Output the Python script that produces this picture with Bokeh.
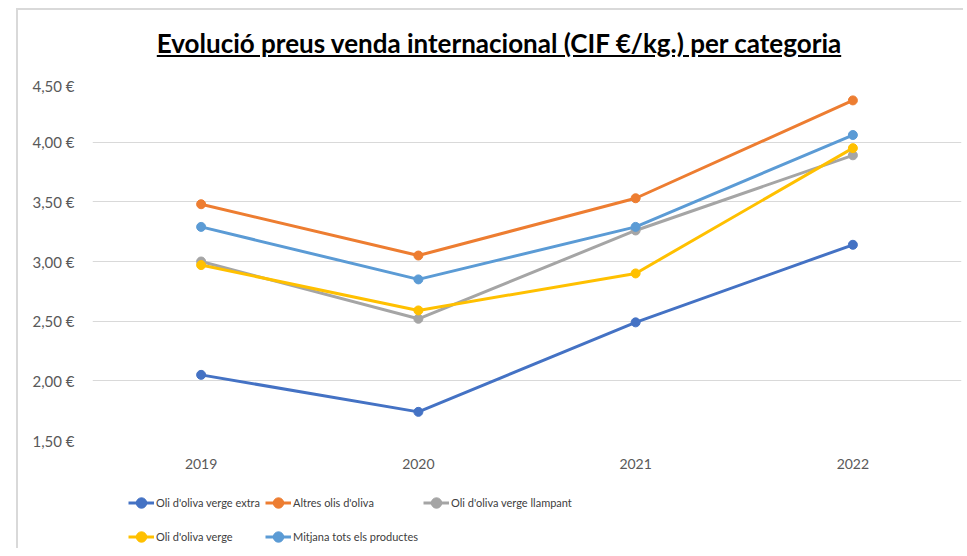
from bokeh.plotting import figure
from bokeh.models import (FactorRange, Legend, LegendItem, CustomJSTickFormatter,
                          FixedTicker, Div, ColumnDataSource, Range1d)
from bokeh.layouts import column
from bokeh.embed import file_html
from bokeh.resources import INLINE

years = ["2019", "2020", "2021", "2022"]
oli_extra = [2.05, 1.74, 2.49, 3.14]
altres = [3.48, 3.05, 3.53, 4.35]
llampant = [3.00, 2.52, 3.26, 3.89]
verge = [2.97, 2.59, 2.90, 3.95]
mitjana = [3.29, 2.85, 3.29, 4.06]

series_names = ["Oli d'oliva verge extra", "Altres olis d'oliva", "Oli d'oliva verge llampant",
                "Oli d'oliva verge", "Mitjana tots els productes"]
series_values = [oli_extra, altres, llampant, verge, mitjana]
colors = ["#4472C4", "#ED7D31", "#A5A5A5", "#FFC000", "#5B9BD5"]
y_ticks = [1.5, 2.0, 2.5, 3.0, 3.5, 4.0, 4.5]

FONT = "Lato"
W = 945

title = Div(
    text="<u>Evolució preus venda internacional (CIF €/kg.) per categoria</u>",
    width=W, height=66, margin=0,
    styles={"text-align": "center", "font-family": FONT, "font-weight": "bold",
            "font-size": "26px", "line-height": "66px", "color": "#000000",
            "text-indent": "17px"},
)

p = figure(x_range=FactorRange(*years, range_padding=0), y_range=(1.5, 4.5),
           width=W, height=399, output_backend="svg", toolbar_location=None,
           min_border_left=74, min_border_right=2, min_border_top=6, min_border_bottom=35)
p.outline_line_color = None
p.background_fill_color = "white"
p.border_fill_color = "white"

p.xgrid.grid_line_color = None
p.ygrid.grid_line_color = "#D9D9D9"
p.ygrid.grid_line_width = 1

p.yaxis.ticker = FixedTicker(ticks=y_ticks)
p.yaxis.formatter = CustomJSTickFormatter(
    code="return tick.toFixed(2).replace('.', ',') + ' €';")
for ax in (p.xaxis[0], p.yaxis[0]):
    ax.axis_line_color = None
    ax.major_tick_line_color = None
    ax.minor_tick_line_color = None
    ax.major_tick_out = 0
    ax.major_tick_in = 0
    ax.major_label_text_font = FONT
    ax.major_label_text_color = "#595959"
p.yaxis.major_label_text_font_size = "15px"
p.xaxis.major_label_text_font_size = "14px"
p.yaxis.major_label_standoff = 18
p.xaxis.major_label_standoff = 18

for name, vals, c in zip(series_names, series_values, colors):
    src = ColumnDataSource(dict(x=years, y=vals))
    p.line("x", "y", source=src, line_color=c, line_width=3)
    p.scatter("x", "y", source=src, size=9, fill_color=c, line_color=c)

# Legend-only strip below the chart (its renderers sit outside the visible range)
lf = figure(x_range=Range1d(0, 1), y_range=Range1d(0, 1), width=W, height=73,
            output_backend="svg", toolbar_location=None,
            min_border_left=0, min_border_right=0, min_border_top=0, min_border_bottom=0)
lf.axis.visible = False
lf.grid.visible = False
lf.outline_line_color = None
items = []
for name, c in zip(series_names, colors):
    l1 = lf.line(x=[-5, -4], y=[-5, -4], line_color=c, line_width=3)
    l2 = lf.scatter(x=[-5], y=[-5], size=9, fill_color=c, line_color=c)
    items.append(LegendItem(label=name, renderers=[l1, l2]))

legend = Legend(items=items, location=(36, -3), orientation="horizontal", ncols=3,
                glyph_width=26, glyph_height=29, label_height=29, label_width=0,
                label_standoff=2, spacing=5, padding=0, margin=0,
                border_line_color=None, background_fill_alpha=0,
                label_text_font=FONT, label_text_font_size="11px",
                label_text_color="#404040")
lf.add_layout(legend, "center")

layout = column(title, p, lf, spacing=0,
                styles={"margin-left": "16px", "margin-top": "8px",
                        "border-left": "2px solid #D9D9D9",
                        "border-top": "2px solid #D9D9D9"})
open("out.html", "w").write(file_html(layout, INLINE))
